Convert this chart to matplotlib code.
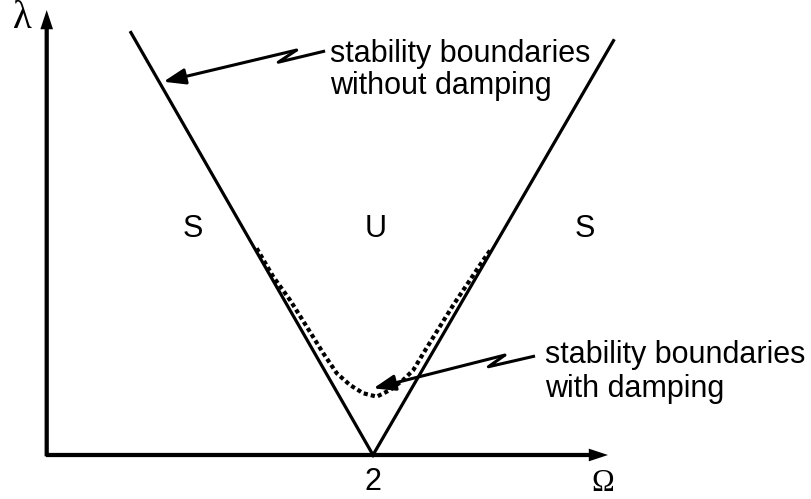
import matplotlib
matplotlib.use("Agg")
import matplotlib.pyplot as plt

# Parametric resonance chart: excitation frequency Omega vs. load parameter lambda
omega_crit = 2.0

# Undamped stability boundaries: two straight lines meeting at Omega = 2
undamped_omega = [0.51, 2.0, 3.48]
undamped_lambda = [2.60, 0.0, 2.55]

# Damped stability boundary (dotted), lifted off the axis near Omega = 2
damped_omega = [1.284, 1.386, 1.489, 1.592, 1.694, 1.777, 1.858, 1.940, 2.023,
                2.105, 2.186, 2.248, 2.310, 2.392, 2.494, 2.597, 2.679, 2.730]
damped_lambda = [1.272, 1.097, 0.954, 0.790, 0.626, 0.503, 0.431, 0.380, 0.359,
                 0.400, 0.462, 0.523, 0.626, 0.759, 0.923, 1.077, 1.200, 1.272]

# Stable / unstable region labels
region_labels = ["S", "U", "S"]
region_omega = [0.892, 2.018, 3.305]
region_lambda = 1.342

# Callout texts and their zig-zag leader lines (tip, zig, zag, text end)
callout_texts = [["stability boundaries", "without damping"],
                 ["stability boundaries", "with damping"]]
callout_text_pos = [(1.735, 2.418), (3.058, 0.566)]
callout_line_gap = [0.197, 0.209]
callout_paths = [
    [(0.710, 2.297), (1.530, 2.492), (1.417, 2.417), (1.705, 2.486)],
    [(2.002, 0.410), (2.812, 0.615), (2.710, 0.543), (2.997, 0.609)],
]

# Axis extents
omega_axis_end = 3.446
lambda_axis_end = 2.738

SANS = ["Liberation Sans", "DejaVu Sans"]
SERIF = ["Liberation Serif", "DejaVu Serif"]
TXT = 22

fig = plt.figure(figsize=(8.12, 4.99), dpi=100)
ax = fig.add_axes([0, 0, 1, 1])
ax.set_xlim(-0.2954, 4.7015)
ax.set_ylim(-0.2708, 2.8)
ax.axis("off")

# Coordinate axes with arrow heads (equal data scale on both axes)
arrow_kw = dict(width=0.026, head_width=0.078, head_length=0.118,
                length_includes_head=True, color="black", lw=0, zorder=2)
ax.arrow(-0.008, -0.008, 0.0, lambda_axis_end + 0.008, **arrow_kw)
ax.arrow(-0.013, 0.0, omega_axis_end + 0.013, 0.0, **arrow_kw)

# Boundaries
ax.plot(undamped_omega, undamped_lambda, color="black", lw=2.3,
        solid_joinstyle="miter", zorder=3)
ax.plot(damped_omega, damped_lambda, color="black", lw=3.0,
        linestyle=(0, (1, 0.75)), dash_capstyle="butt", zorder=3)

# Region labels
for lab, om in zip(region_labels, region_omega):
    ax.text(om, region_lambda, lab, ha="center", va="baseline",
            fontsize=TXT, family=SANS)

# Axis labels and tick
ax.text(omega_crit, -0.215, "2", ha="center", va="baseline", fontsize=TXT, family=SANS)
ax.text(-0.157, 2.628, "λ", ha="center", va="baseline", fontsize=28, family=SERIF)
ax.text(3.415, -0.222, "Ω", ha="center", va="baseline", fontsize=22, family=SERIF)

# Callouts
head = dict(arrowstyle="-|>,head_length=0.55,head_width=0.2", mutation_scale=24,
            lw=2.2, color="black", shrinkA=0, shrinkB=0)
for lines, (tx, ty), gap, path in zip(callout_texts, callout_text_pos,
                                      callout_line_gap, callout_paths):
    ax.annotate("", xy=path[0], xytext=path[1], arrowprops=head, zorder=4)
    xs = [p[0] for p in path[1:]]
    ys = [p[1] for p in path[1:]]
    ax.plot(xs, ys, color="black", lw=2.2, solid_joinstyle="round",
            solid_capstyle="butt", zorder=4)
    for i, line in enumerate(lines):
        ax.text(tx, ty - i * gap, line, ha="left", va="baseline",
                fontsize=TXT, family=SANS)

fig.savefig("out.png", dpi=100)
